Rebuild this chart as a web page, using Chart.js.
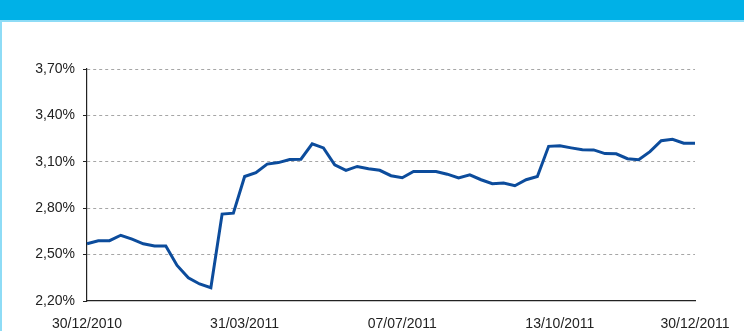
<!DOCTYPE html>
<html lang="it">
<head>
    <meta charset="UTF-8">
    <title>Rendimento</title>
    <script src="https://cdn.jsdelivr.net/npm/chart.js"></script>
    <style>
        html, body { margin: 0; padding: 0; background: #fff; }
        body { width: 744px; height: 331px; position: relative; overflow: hidden; }
        .banner { position: absolute; left: 0; top: 0; width: 744px; height: 20px; background: #00b1e7; border-bottom: 2px solid #8edcf6; }
        .frame { position: absolute; left: 0; top: 22px; width: 2px; height: 309px; background: #8edcf6; }
        #rendChart { position: absolute; left: 0; top: 0; }
    </style>
</head>
<body>
    <div class="banner"></div>
    <div class="frame"></div>
    <canvas id="rendChart" width="744" height="331"></canvas>

    <script>
        // weekly yield, %
        var yields = [
            2.57, 2.59, 2.59, 2.625, 2.60, 2.57, 2.555, 2.555, 2.43, 2.35,
            2.31, 2.286, 2.762, 2.768, 3.005, 3.03, 3.085, 3.095, 3.115, 3.117,
            3.216, 3.19, 3.08, 3.045, 3.07, 3.055, 3.045, 3.01, 2.997, 3.037,
            3.037, 3.037, 3.02, 2.995, 3.016, 2.984, 2.958, 2.963, 2.945, 2.984,
            3.005, 3.20, 3.203, 3.19, 3.178, 3.177, 3.153, 3.152, 3.12, 3.113,
            3.166, 3.236, 3.246, 3.22, 3.22
        ];
        // dates shown under the axis, one every 14 weeks plus the last one
        var tickDates = ['30/12/2010', '31/03/2011', '07/07/2011', '13/10/2011', '30/12/2011'];
        var tickEvery = 14;

        var yMin = 2.2, yMax = 3.7, yStep = 0.3;

        var labels = yields.map(function (v, i) {
            if (i === yields.length - 1) return tickDates[tickDates.length - 1];
            return i % tickEvery === 0 ? tickDates[i / tickEvery] : '';
        });

        var ctx = document.getElementById('rendChart').getContext('2d');
        var rendChart = new Chart(ctx, {
            type: 'line',
            data: {
                labels: labels,
                datasets: [{
                    data: yields,
                    borderColor: '#0c4c9c',
                    borderWidth: 3,
                    pointRadius: 0,
                    tension: 0,
                    fill: false
                }]
            },
            options: {
                responsive: false,
                animation: false,
                layout: { padding: { left: 0, right: 49, top: 69, bottom: 0 } },
                plugins: { legend: { display: false }, tooltip: { enabled: false } },
                scales: {
                    x: {
                        type: 'category',
                        offset: false,
                        grid: { display: false },
                        border: { display: true, color: '#222', width: 1.2 },
                        ticks: {
                            autoSkip: false,
                            maxRotation: 0,
                            padding: 7,
                            color: '#222',
                            font: { family: 'Liberation Sans, Arial, sans-serif', size: 14 }
                        },
                        afterFit: function (scale) { scale.height = 30; }
                    },
                    y: {
                        min: yMin,
                        max: yMax,
                        grid: {
                            color: function (c) { return c.tick && Math.abs(c.tick.value - yMin) < 1e-6 ? 'rgba(0,0,0,0)' : '#a6a6a6'; },
                            lineWidth: 1,
                            tickLength: 4,
                            tickColor: '#222',
                            tickBorderDash: []
                        },
                        border: { display: true, color: '#222', width: 1.2, dash: [3, 3] },
                        ticks: {
                            stepSize: yStep,
                            padding: 8,
                            color: '#222',
                            font: { family: 'Liberation Sans, Arial, sans-serif', size: 14 },
                            callback: function (v) { return v.toFixed(2).replace('.', ',') + '%'; }
                        },
                        afterFit: function (scale) { scale.width = 87; }
                    }
                }
            }
        });
    </script>
</body>
</html>
